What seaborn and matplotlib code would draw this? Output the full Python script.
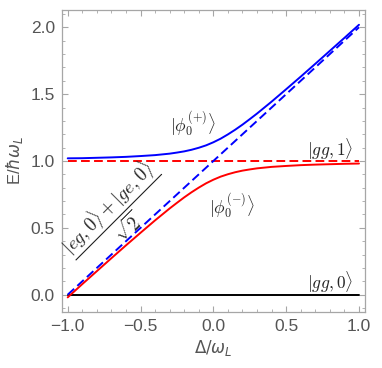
import numpy as np
import pandas as pd
import matplotlib
matplotlib.use('Agg')
import matplotlib.pyplot as plt
import seaborn as sns
from matplotlib.ticker import MultipleLocator

# Values
delta = [-1.0, -0.9, -0.8, -0.7, -0.6, -0.5, -0.4, -0.3, -0.25, -0.2, -0.15, -0.1, -0.05,
         0.0, 0.05, 0.1, 0.15, 0.2, 0.25, 0.3, 0.4, 0.5, 0.6, 0.7, 0.8, 0.9, 1.0]
e_plus = [1.020, 1.021, 1.024, 1.027, 1.031, 1.037, 1.044, 1.055, 1.063, 1.072, 1.084, 1.099, 1.117,
          1.140, 1.167, 1.199, 1.234, 1.272, 1.313, 1.355, 1.444, 1.537, 1.631, 1.727, 1.824, 1.921, 2.019]
e_minus = [-0.020, 0.079, 0.176, 0.273, 0.369, 0.463, 0.556, 0.645, 0.687, 0.728, 0.766, 0.801, 0.833,
           0.860, 0.883, 0.901, 0.916, 0.928, 0.937, 0.945, 0.956, 0.963, 0.969, 0.973, 0.976, 0.979, 0.981]

# bare (uncoupled) levels
bare_delta = [-1.0, 1.0]
gg0 = [0.0, 0.0]
gg1 = [1.0, 1.0]
eg_ge = [0.0, 2.0]

curves = pd.DataFrame({'delta': delta, 'plus': e_plus, 'minus': e_minus})
bare = pd.DataFrame({'delta': bare_delta, 'gg0': gg0, 'gg1': gg1, 'eg': eg_ge})

sns.set_style('white')
plt.rcParams['font.family'] = ['Liberation Sans', 'DejaVu Sans']

fig = plt.figure(figsize=(3.82, 3.68), dpi=100)
ax = fig.add_axes([0.162, 0.152, 0.793, 0.821])

dash = (4.5, 2.2)
sns.lineplot(data=bare, x='delta', y='gg0', color='black', lw=1.4, ax=ax)
sns.lineplot(data=bare, x='delta', y='gg1', color='red', lw=1.4, ax=ax)
ax.lines[-1].set_dashes(dash)
sns.lineplot(data=bare, x='delta', y='eg', color='blue', lw=1.4, ax=ax)
ax.lines[-1].set_dashes(dash)
sns.lineplot(data=curves, x='delta', y='plus', color='blue', lw=1.4, ax=ax, sort=False)
sns.lineplot(data=curves, x='delta', y='minus', color='red', lw=1.4, ax=ax, sort=False)

ax.set_xlim(-1.04, 1.04)
ax.set_ylim(-0.13, 2.13)

ax.xaxis.set_major_locator(MultipleLocator(0.5))
ax.xaxis.set_minor_locator(MultipleLocator(0.1))
ax.yaxis.set_major_locator(MultipleLocator(0.5))
ax.yaxis.set_minor_locator(MultipleLocator(0.1))
fmt = plt.FuncFormatter(lambda v, p: f'{v:.1f}'.replace('-', '\u2212'))
ax.xaxis.set_major_formatter(fmt)
ax.yaxis.set_major_formatter(fmt)

frame_col = '#a6a6a6'
for s in ax.spines.values():
    s.set_visible(True)
    s.set_color(frame_col)
    s.set_linewidth(0.9)
ax.tick_params(which='both', direction='in', bottom=True, left=True, top=True, right=True,
               color=frame_col, labelcolor='#555555', labelsize=12.5)
ax.tick_params(which='major', length=4.5, width=0.8, pad=5)
ax.tick_params(which='minor', length=2.5, width=0.6)

ax.set_xlabel(r'$\Delta/\omega_L$', fontsize=12, color='#555555', labelpad=3)
ax.set_ylabel(r'E/$\hbar\omega_L$', fontsize=12, color='#555555', labelpad=4)

txt = dict(fontsize=12.5, math_fontfamily='cm', ha='center', va='center')
ax.text(-0.14, 1.27, r'$|\phi_0^{(+)}\rangle$', **txt)
ax.text(0.13, 0.66, r'$|\phi_0^{(-)}\rangle$', **txt)
ax.text(0.80, 1.09, r'$|gg,1\rangle$', **txt)
ax.text(0.80, 0.09, r'$|gg,0\rangle$', **txt)
ax.text(-0.66, 0.59, r'$\dfrac{|eg,0\rangle+|ge,0\rangle}{\sqrt{2}}$', rotation=45,
        rotation_mode='anchor', fontsize=13.5, math_fontfamily='cm', ha='center', va='center')

fig.savefig('out.png', dpi=100)
